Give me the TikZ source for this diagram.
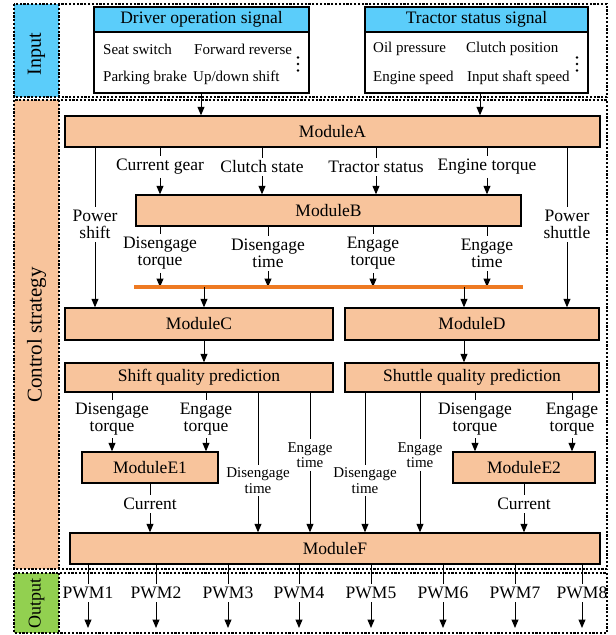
\documentclass[tikz,border=0pt]{standalone}
\usepackage{fontspec}
\setmainfont{Liberation Serif}
\usetikzlibrary{arrows.meta}
\definecolor{modfill}{HTML}{F8C49C}
\definecolor{hdrblue}{HTML}{5BCDFA}
\definecolor{outgreen}{HTML}{92D050}
\definecolor{orline}{HTML}{EE7A22}
\newcommand\fsz[2]{\fontsize{#1}{#2}\selectfont}
\begin{document}
\begin{tikzpicture}[x=1pt,y=-1pt,
  bx/.style args={#1/#2/#3/#4}{minimum width={#3-#1}, minimum height={#4-#2},
     at={({(#1+#3)/2},{(#2+#4)/2})}},
  mod/.style={draw, line width=1.4pt, fill=modfill, inner sep=0pt, font=\fsz{17.5}{17}},
  hdr/.style={draw, line width=1.4pt, fill=hdrblue, inner sep=0pt, font=\fsz{17.5}{17}},
  bodyb/.style={draw, line width=1.4pt, inner sep=0pt},
  bodyt/.style={anchor=west, inner sep=0pt, font=\fsz{15}{15}},
  lbl/.style={align=center, inner sep=3pt, font=\fsz{17.5}{17}},
  slbl/.style={align=center, inner sep=3pt, font=\fsz{15}{15.5}},
  side/.style={rotate=90, inner sep=0pt, font=\fsz{20}{20}},
  ln/.style={line width=1pt},
  arr/.style={line width=1pt, -{Triangle[length=8.5pt,width=7pt]}},
  frame/.style={line width=1.3pt, dash pattern=on 2.2pt off 1.6pt},
]
\useasboundingbox (0,0) rectangle (616,635);

% ---- section strips and frames
\fill[hdrblue] (14,4) rectangle (59,97);
\fill[modfill] (14,100) rectangle (59,569);
\fill[outgreen] (14,573) rectangle (59,633);
\draw[frame] (14,4) rectangle (607,97);
\draw[frame] (59,4) -- (59,97);
\draw[frame] (14,100) rectangle (607,569);
\draw[frame] (59,100) -- (59,569);
\draw[frame] (14,573) rectangle (607,633);
\draw[frame] (59,573) -- (59,633);
\node[side] (sIn) at (36.5,54) {Input};
\node[side, font=\fsz{21}{21}] (sCtl) at (36.5,335) {Control strategy};
\node[side, font=\fsz{18}{18}] (sOut) at (36.5,603) {Output};

% ---- input boxes
\node[hdr, bx=94/7/309/32] (drvh) {Driver operation signal};
\node[bodyb, bx=94/32/309/93] (drv) {};
\node[bodyt] (t1) at (103,49) {Seat switch};
\node[bodyt] (t2) at (194,49) {Forward reverse};
\node[bodyt] (t3) at (103,78) {Parking brake};
\node[bodyt] (t4) at (193,78) {Up/down shift};
\foreach \yy in {57.5,64,70.5}{\fill (298,\yy) circle (1.4);}

\node[hdr, bx=365/7/588/32] (trh) {Tractor status signal};
\node[bodyb, bx=365/32/588/93] (tr) {};
\node[bodyt] (u1) at (373,49) {Oil pressure};
\node[bodyt] (u2) at (466,49) {Clutch position};
\node[bodyt] (u3) at (373,78) {Engine speed};
\node[bodyt] (u4) at (467,78) {Input shaft speed};
\foreach \yy in {57.5,64,70.5}{\fill (577,\yy) circle (1.4);}

% ---- modules
\node[mod, bx=65/116/600/147] (A) {ModuleA};
\node[mod, bx=136/195/521/226] (B) {ModuleB};
\node[mod, bx=65/308/333/340] (C) {ModuleC};
\node[mod, bx=345/308/599/340] (D) {ModuleD};
\node[mod, bx=65/363/333/392] (SP) {Shift quality prediction};
\node[mod, bx=345/363/599/392] (DP) {Shuttle quality prediction};
\node[mod, bx=82/452/218/483] (E1) {ModuleE1};
\node[mod, bx=453/452/595/483] (E2) {ModuleE2};
\node[mod, bx=70/533/600/564] (F) {ModuleF};

\coordinate (xa1) at (201,0);
\coordinate (xa2) at (480,0);
\coordinate (xc) at (204,0);
\coordinate (xd) at (464,0);
\coordinate (busL) at (134,287);
\coordinate (busR) at (523,287);
\coordinate (bot) at (0,628);

% input -> A
\draw[arr] (drv.south -| xa1) -- (A.north -| xa1);
\draw[arr] (tr.south -| xa2) -- (A.north -| xa2);

% A -> B labels
\node[lbl] (cg) at (160,167) {Current gear};
\node[lbl] (cs) at (262,167) {Clutch state};
\node[lbl] (ts) at (376,167) {Tractor status};
\node[lbl] (et) at (487,167) {Engine torque};
\foreach \n in {cg,cs,ts,et}{
  \draw[ln] (A.south -| \n) -- (\n.north);
  \draw[arr] (\n.south) -- (\n.south |- B.north);
}

% power shift / shuttle
\node[lbl] (ps) at (95,224.5) {Power\\shift};
\node[lbl] (pt) at (567,224.5) {Power\\shuttle};
\foreach \n in {ps,pt}{
  \draw[ln] (A.south -| \n) -- (\n.north);
}
\draw[arr] (ps.south) -- (ps.south |- C.north);
\draw[arr] (pt.south) -- (pt.south |- D.north);

% B outputs -> bus
\node[lbl] (b1) at (160,253.5) {Disengage\\torque};
\node[lbl] (b2) at (268,253.5) {Disengage\\time};
\node[lbl] (b3) at (373,253.5) {Engage\\torque};
\node[lbl] (b4) at (487,253.5) {Engage\\time};
\foreach \n in {b1,b2,b3,b4}{
  \draw[ln] (B.south -| \n) -- (\n.north);
  \draw[arr] (\n.south) -- (\n.south |- busL);
}
\draw[orline, line width=3.2pt] (busL) -- (busR);
\draw[arr] (busL -| xc) -- (C.north -| xc);
\draw[arr] (busL -| xd) -- (D.north -| xd);
\draw[arr] (C.south -| xc) -- (SP.north -| xc);
\draw[arr] (D.south -| xd) -- (DP.north -| xd);

% prediction outputs
\node[lbl] (s1) at (112,419) {Disengage\\torque};
\node[lbl] (s2) at (206,419) {Engage\\torque};
\node[lbl] (r1) at (475,419) {Disengage\\torque};
\node[lbl] (r2) at (572,419) {Engage\\torque};
\foreach \n in {s1,s2}{
  \draw[ln] (SP.south -| \n) -- (\n.north);
  \draw[arr] (\n.south) -- (\n.south |- E1.north);
}
\foreach \n in {r1,r2}{
  \draw[ln] (DP.south -| \n) -- (\n.north);
  \draw[arr] (\n.south) -- (\n.south |- E2.north);
}
\node[slbl] (s3) at (258,480.5) {Disengage\\time};
\node[slbl] (s4) at (310,455) {Engage\\time};
\node[slbl] (r3) at (365,480.5) {Disengage\\time};
\node[slbl] (r4) at (420,455) {Engage\\time};
\foreach \n in {s3,s4}{
  \draw[ln] (SP.south -| \n) -- (\n.north);
  \draw[arr] (\n.south) -- (\n.south |- F.north);
}
\foreach \n in {r3,r4}{
  \draw[ln] (DP.south -| \n) -- (\n.north);
  \draw[arr] (\n.south) -- (\n.south |- F.north);
}

% currents
\node[lbl] (c1) at (150,504) {Current};
\node[lbl] (c2) at (524,504) {Current};
\draw[ln] (E1.south -| c1) -- (c1.north);
\draw[arr] (c1.south) -- (c1.south |- F.north);
\draw[ln] (E2.south -| c2) -- (c2.north);
\draw[arr] (c2.south) -- (c2.south |- F.north);

% outputs
\foreach \i/\x in {1/88,2/156,3/228,4/299,5/371,6/443,7/515,8/582}{
  \node[lbl] (p\i) at (\x,593) {PWM\i};
  \draw[ln] (F.south -| p\i) -- (p\i.north);
  \draw[arr] (p\i.south) -- (p\i.south |- bot);
}
\end{tikzpicture}
\end{document}
